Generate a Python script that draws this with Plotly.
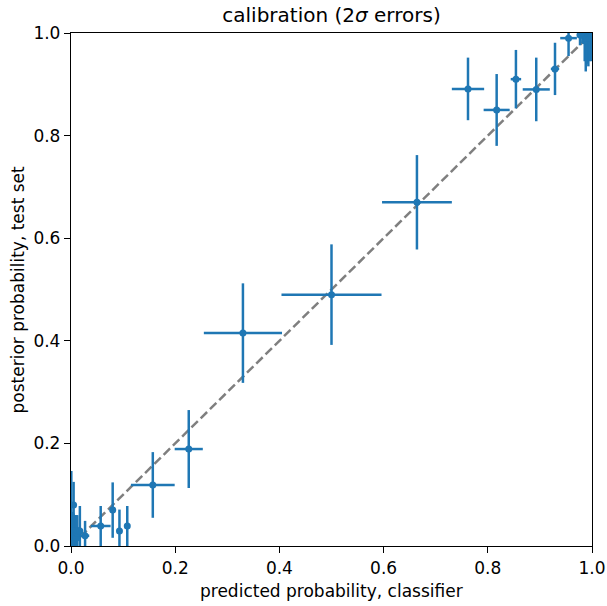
import plotly.graph_objects as go

# predicted probability (bin centre), observed posterior probability, and 2-sigma errors
pred = [0.0006, 0.0015, 0.002, 0.003, 0.004, 0.005, 0.006, 0.007, 0.008, 0.009, 0.010, 0.011, 0.012,
        0.017, 0.027,
        0.057, 0.080, 0.093, 0.108, 0.157, 0.226, 0.330, 0.500, 0.664,
        0.762, 0.817, 0.854, 0.893, 0.929, 0.955, 0.977, 0.982, 0.986, 0.988, 0.990,
        0.993, 0.995, 0.997, 0.9985, 0.9995]
post = [0.060, 0.025, 0.020, 0.010, 0.030, 0.080, 0.030, 0.025, 0.020, 0.030, 0.015, 0.025, 0.030,
        0.029, 0.020,
        0.039, 0.070, 0.029, 0.039, 0.119, 0.189, 0.415, 0.490, 0.670,
        0.891, 0.850, 0.910, 0.890, 0.930, 0.990, 0.996, 0.995, 0.985, 0.990, 0.990,
        0.995, 0.990, 0.998, 0.995, 0.999]
pred_err = [0.0006, 0.001, 0.001, 0.001, 0.001, 0.003, 0.001, 0.001, 0.001, 0.001, 0.001, 0.001, 0.001,
            0.003, 0.008,
            0.019, 0.003, 0.003, 0.002, 0.042, 0.027, 0.075, 0.096, 0.067,
            0.031, 0.025, 0.010, 0.026, 0.008, 0.016, 0.006, 0.003, 0.002, 0.003, 0.002,
            0.003, 0.002, 0.002, 0.001, 0.0005]
post_err = [0.086, 0.040, 0.040, 0.050, 0.030, 0.045, 0.030, 0.035, 0.040, 0.030, 0.035, 0.035, 0.030,
            0.049, 0.029,
            0.039, 0.054, 0.042, 0.039, 0.064, 0.076, 0.097, 0.098, 0.092,
            0.061, 0.070, 0.057, 0.062, 0.051, 0.035, 0.020, 0.015, 0.040, 0.065, 0.050,
            0.060, 0.045, 0.040, 0.050, 0.030]

diag = [0.0, 1.0]
xticks = [0.0, 0.2, 0.4, 0.6, 0.8, 1.0]
yticks = [0.0, 0.2, 0.4, 0.6, 0.8, 1.0]

blue = "#1f77b4"
font = "DejaVu Sans"
L, R, T, B = 71, 15, 33, 60
W, H = 607, 606

fig = go.Figure()
fig.add_trace(go.Scatter(
    x=diag, y=diag, mode="lines",
    line=dict(color="rgba(0,0,0,0.5)", width=2.5, dash="9px,4px"),
    hoverinfo="skip", showlegend=False))
fig.add_trace(go.Scatter(
    x=pred, y=post, mode="markers",
    marker=dict(color=blue, size=7),
    error_x=dict(type="data", array=pred_err, color=blue, thickness=2.5, width=0),
    error_y=dict(type="data", array=post_err, color=blue, thickness=2.5, width=0),
    showlegend=False))

axis_common = dict(
    range=[0, 1], showgrid=False, zeroline=False, automargin=False,
    showline=True, linecolor="black", linewidth=1.3, mirror=True,
    ticks="outside", ticklen=6, tickwidth=1.3, tickcolor="black",
    tickformat=".1f", tickfont=dict(family=font, size=17, color="black"),
)
fig.update_xaxes(**axis_common, tickvals=xticks)
fig.update_yaxes(**axis_common, tickvals=yticks)

fig.update_layout(
    width=W, height=H,
    margin=dict(l=L, r=R, t=T, b=B),
    plot_bgcolor="white", paper_bgcolor="white",
    title=dict(text="calibration (2<i>σ</i> errors)", x=(L + W - R) / 2 / W, xanchor="center",
               y=1 - 15 / H, yanchor="middle",
               font=dict(family=font, size=20, color="black")),
    annotations=[
        dict(text="predicted probability, classifier", xref="paper", yref="paper",
             x=0.5, y=-(591 - (H - B)) / (H - T - B), xanchor="center", yanchor="middle",
             showarrow=False, font=dict(family=font, size=17, color="black")),
        dict(text="posterior probability, test set", xref="paper", yref="paper",
             x=-(L - 17) / (W - L - R), y=0.5, xanchor="center", yanchor="middle",
             textangle=-90, showarrow=False, font=dict(family=font, size=17, color="black")),
    ],
)

fig.write_html("out.html")
